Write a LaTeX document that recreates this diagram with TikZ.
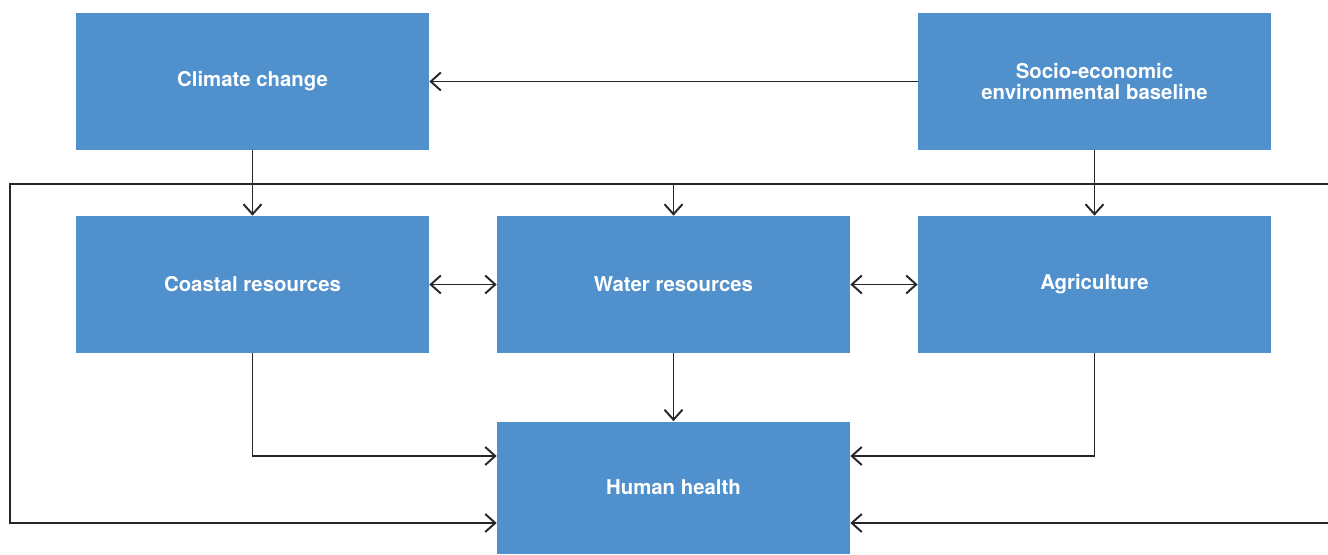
\documentclass[tikz,border=0pt]{standalone}
\usepackage{fontspec}
\setsansfont{TeX Gyre Heros}
\usetikzlibrary{arrows.meta}
\definecolor{boxblue}{RGB}{80,144,204}
\begin{document}
\begin{tikzpicture}[
    >={Straight Barb[length=0.2cm, width=0.36cm]},
    link/.style={line width=1.1pt, draw=black!85},
    box/.style={fill=boxblue, minimum width=7.06cm, minimum height=2.74cm,
        text=white, align=center, font=\sffamily\bfseries\fontsize{11.6}{12.4}\selectfont}
]
    \clip (0,0) rectangle (26.56,11.08);
    % Top row
    \node[box] (climate) at (5.05,9.45) {Climate change};
    \node[box] (socio) at (21.89,9.45) {Socio-economic\\environmental baseline};
    % Middle row
    \node[box] (coastal) at (5.05,5.39) {Coastal resources};
    \node[box] (water) at (13.47,5.39) {Water resources};
    \node[box] (agri) at (21.89,5.39) {Agriculture};
    % Bottom
    \node[box, minimum height=2.64cm] (health) at (13.47,1.33) {Human health};
    % Feedback loop around everything
    \coordinate (loopL) at (0.2,7.4);
    \coordinate (loopR) at (26.8,7.4);
    \draw[link, <->] (health.west |- 0,0.62) -- (0.2,0.62) -- (loopL) -- (loopR)
        -- (26.8,0.62) -- (health.east |- 0,0.62);
    % Vertical links
    \draw[link, ->] (socio.west |- climate.east) -- (climate.east);
    \draw[link, ->] (climate.south) -- (coastal.north);
    \draw[link, ->] (socio.south) -- (agri.north);
    \draw[link, ->] (water.north |- loopL) -- (water.north);
    \draw[link, ->] (water.south) -- (health.north);
    % Side links
    \draw[link, <->] (coastal.east) -- (water.west);
    \draw[link, <->] (water.east) -- (agri.west);
    \draw[link, ->] (coastal.south) |- (health.west |- 0,1.96);
    \draw[link, ->] (agri.south) |- (health.east |- 0,1.96);
\end{tikzpicture}
\end{document}
